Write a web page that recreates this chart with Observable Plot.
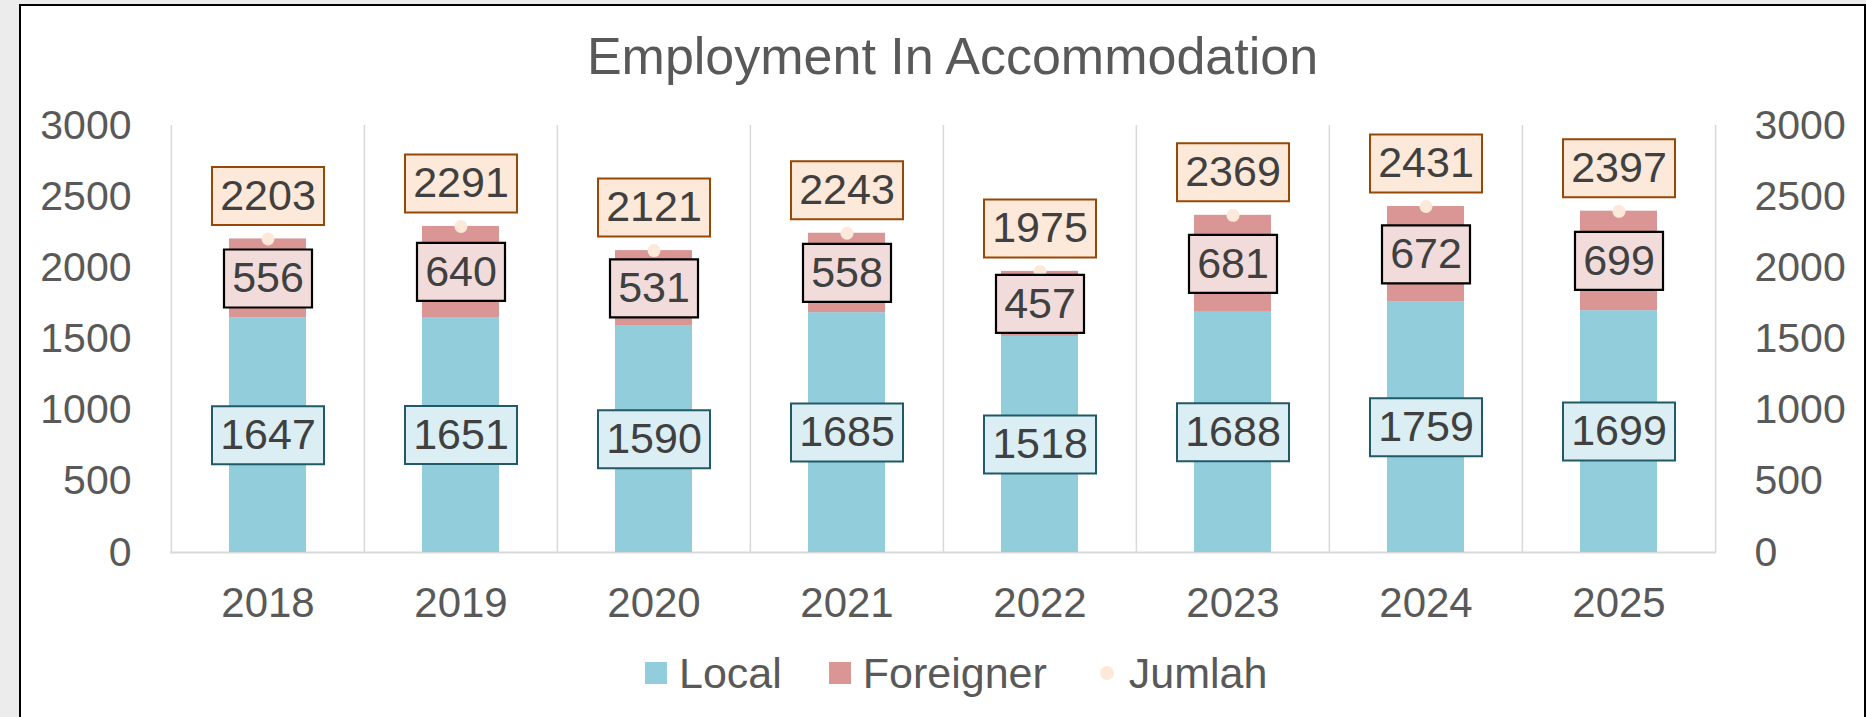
<!DOCTYPE html>
<html>
<head>
<meta charset="utf-8">
<script src="https://cdn.jsdelivr.net/npm/d3@7"></script>
<script src="https://cdn.jsdelivr.net/npm/@observablehq/plot@0.6"></script>
<style>
  html, body { margin: 0; padding: 0; }
  body {
    width: 1866px; height: 717px; overflow: hidden; position: relative;
    background: #ececec;
    font-family: "Liberation Sans", Arial, sans-serif;
  }
  #frame {
    position: absolute; left: 19px; top: 4px; width: 1847px; height: 760px;
    box-sizing: border-box; border: 2px solid #000; background: #fff;
  }
  #title {
    position: absolute; left: 21px; width: 1843px; top: 26px; box-sizing: border-box; padding-left: 20px;
    text-align: center; font-size: 52px; line-height: 60px; color: #595959;
  }
  #chart { position: absolute; left: 0; top: 95px; }
  #legend {
    position: absolute; left: 645px; top: 648px; display: flex; align-items: center;
    font-size: 43px; line-height: 50px; color: #595959;
  }
  .sw { width: 22px; height: 22px; margin-right: 12px; }
  .dotsw { width: 14px; height: 14px; border-radius: 50%; margin-left: 6px; margin-right: 15px; }
  .lbl { margin-right: 47px; }
</style>
</head>
<body>
<div id="frame"></div>
<div id="title">Employment In Accommodation</div>
<div id="chart"></div>
<div id="legend"></div>
<script>
// ---- data ----
const years = ["2018", "2019", "2020", "2021", "2022", "2023", "2024", "2025"];
const local = [1647, 1651, 1590, 1685, 1518, 1688, 1759, 1699];
const foreigner = [556, 640, 531, 558, 457, 681, 672, 699];
const jumlah = [2203, 2291, 2121, 2243, 1975, 2369, 2431, 2397];
const yTicks = [0, 500, 1000, 1500, 2000, 2500, 3000];
const seriesNames = ["Local", "Foreigner", "Jumlah"];

// ---- styles ----
const colors = { Local: "#92CDDC", Foreigner: "#DA9694", Jumlah: "#FDE9D9" };
const W = 1866, H = 530, ML = 170, MR = 150, MT = 30, MB = 73;
const bw = (W - ML - MR) / years.length;
const font = "Liberation Sans, Arial, sans-serif";

const rows = years.map((year, i) => ({ year, local: local[i], foreigner: foreigner[i], jumlah: jumlah[i] }));
const stacked = rows.flatMap(r => [
  { year: r.year, series: "Local", value: r.local },
  { year: r.year, series: "Foreigner", value: r.foreigner }
]);

const box = (w, h) => ({ draw(ctx) { ctx.rect(-w / 2, -h / 2, w, h); } });
const box4 = box(112, 58), box3 = box(88, 58);
const jumlahDy = -43;

const chart = Plot.plot({
  width: W, height: H,
  marginLeft: ML, marginRight: MR, marginTop: MT, marginBottom: MB,
  style: { fontFamily: font, color: "#595959", background: "transparent", overflow: "visible", maxWidth: "none" },
  x: { type: "band", domain: years, padding: 0, axis: null, label: null },
  y: { domain: [0, 3000], axis: null, label: null },
  color: { domain: ["Local", "Foreigner"], range: [colors.Local, colors.Foreigner] },
  marks: [
    // category separators
    Plot.ruleX(years, { x: d => d, y1: 0, y2: 3000, dx: -bw / 2, stroke: "#D9D9D9", strokeWidth: 1.5 }),
    Plot.ruleX(years.slice(-1), { x: d => d, y1: 0, y2: 3000, dx: bw / 2, stroke: "#D9D9D9", strokeWidth: 1.5 }),
    Plot.ruleY([0], { stroke: "#D9D9D9", strokeWidth: 2 }),
    // stacked bars
    Plot.barY(stacked, Plot.stackY({ x: "year", y: "value", fill: "series", insetLeft: bw * 0.3, insetRight: bw * 0.3 })),
    // total markers
    Plot.dot(rows, { x: "year", y: "jumlah", r: 6.5, fill: colors.Jumlah, stroke: "none" }),
    // local labels
    Plot.dot(rows, { x: "year", y: d => d.local / 2, symbol: box4, fill: "#DAEEF3", stroke: "#215967", strokeWidth: 2 }),
    Plot.text(rows, { x: "year", y: d => d.local / 2, text: d => String(d.local), fontSize: 43, fill: "#404040" }),
    // foreigner labels
    Plot.dot(rows, { x: "year", y: d => d.local + d.foreigner / 2, symbol: box3, fill: "#F2DCDB", stroke: "#000", strokeWidth: 2.2 }),
    Plot.text(rows, { x: "year", y: d => d.local + d.foreigner / 2, text: d => String(d.foreigner), fontSize: 43, fill: "#404040" }),
    // total labels
    Plot.dot(rows, { x: "year", y: "jumlah", dy: jumlahDy, symbol: box4, fill: "#FDE9D9", stroke: "#974706", strokeWidth: 2 }),
    Plot.text(rows, { x: "year", y: "jumlah", dy: jumlahDy, text: d => String(d.jumlah), fontSize: 43, fill: "#404040" }),
    // axes
    Plot.axisX({ tickSize: 0, tickPadding: 35, fontSize: 42, label: null }),
    Plot.axisY({ anchor: "left", ticks: yTicks, tickFormat: d => String(d), tickSize: 0, tickPadding: 39, fontSize: 41, label: null }),
    Plot.axisY({ anchor: "right", ticks: yTicks, tickFormat: d => String(d), tickSize: 0, tickPadding: 38, fontSize: 41, label: null })
  ]
});
document.getElementById("chart").appendChild(chart);

// legend
const legend = document.getElementById("legend");
seriesNames.forEach((name, i) => {
  const sw = document.createElement("div");
  sw.className = name === "Jumlah" ? "dotsw" : "sw";
  sw.style.background = colors[name];
  const t = document.createElement("span");
  t.className = i < seriesNames.length - 1 ? "lbl" : "";
  t.textContent = name;
  legend.appendChild(sw);
  legend.appendChild(t);
});
</script>
</body>
</html>
